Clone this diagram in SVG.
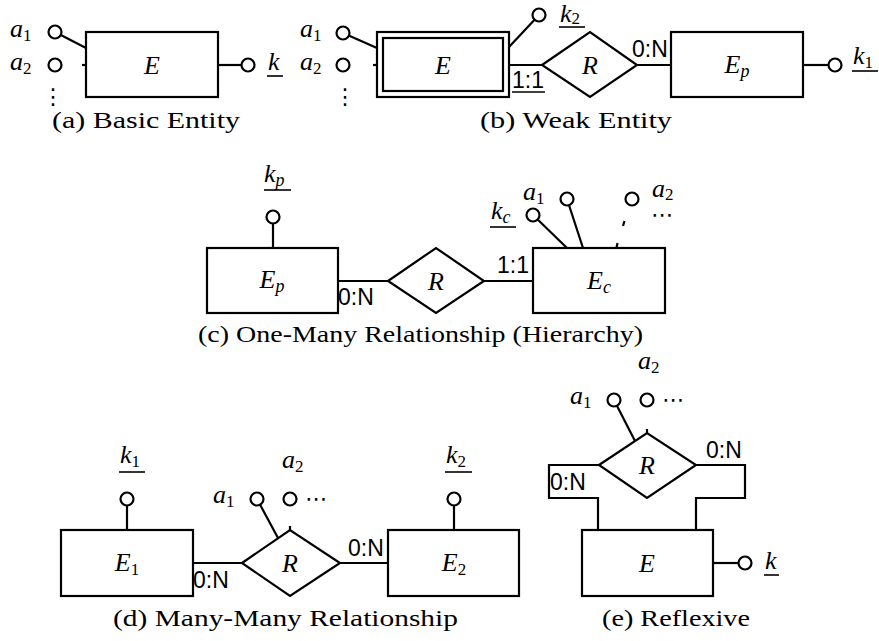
<svg xmlns="http://www.w3.org/2000/svg" width="879" height="641" viewBox="0 0 879 641">
<style>
.ln{stroke:#000;stroke-width:2.2;fill:none}
.ul{stroke:#000;stroke-width:1.6;fill:none}
.box{fill:#fff;stroke:#000;stroke-width:2.2}
.at{fill:#fff;stroke:#000;stroke-width:2.2}
.m{font-family:'Liberation Serif','Times New Roman',serif;font-style:italic;font-size:26px;fill:#000}
.s{font-style:normal;font-size:17px}
.si{font-style:italic;font-size:18px}
.card{font-family:'Liberation Sans',Arial,sans-serif;font-size:23px;fill:#000}
.cap{font-family:'Liberation Serif','Times New Roman',serif;font-size:24px;fill:#000}
.dots{font-family:'DejaVu Sans',sans-serif;font-size:22px;fill:#000}
</style>
<rect width="879" height="641" fill="#fff"/>

<g id="connectors">
  <line class="ln" x1="55" y1="32" x2="86" y2="48"/>
  <line class="ln" x1="82" y1="65" x2="86" y2="65"/>
  <line class="ln" x1="218" y1="65" x2="248" y2="65"/>
  <line class="ln" x1="343" y1="33" x2="377" y2="48"/>
  <line class="ln" x1="373" y1="65" x2="377" y2="65"/>
  <line class="ln" x1="509" y1="47" x2="539" y2="15"/>
  <line class="ln" x1="509" y1="65" x2="542" y2="65"/>
  <line class="ln" x1="637" y1="65" x2="671" y2="65"/>
  <line class="ln" x1="803" y1="65" x2="835" y2="65"/>
  <line class="ln" x1="273" y1="217" x2="273" y2="248"/>
  <line class="ln" x1="338" y1="281" x2="388" y2="281"/>
  <line class="ln" x1="484" y1="281" x2="533" y2="281"/>
  <line class="ln" x1="533" y1="215" x2="567" y2="248"/>
  <line class="ln" x1="567" y1="199" x2="583" y2="248"/>
  <line class="ln" x1="624.5" y1="221" x2="623" y2="226"/>
  <line class="ln" x1="617.5" y1="243" x2="616.5" y2="248"/>
  <line class="ln" x1="127" y1="499" x2="127" y2="530"/>
  <line class="ln" x1="193" y1="563" x2="242" y2="563"/>
  <line class="ln" x1="340" y1="563" x2="388" y2="563"/>
  <line class="ln" x1="257" y1="499" x2="278" y2="538"/>
  <line class="ln" x1="290" y1="526" x2="290" y2="531"/>
  <line class="ln" x1="454" y1="499" x2="454" y2="530"/>
  <polyline class="ln" points="599,465 549,465 549,498 598,498 598,530"/>
  <polyline class="ln" points="696,465 745,465 745,498 696,498 696,530"/>
  <line class="ln" x1="614" y1="400" x2="635" y2="441"/>
  <line class="ln" x1="647" y1="429" x2="647" y2="434"/>
  <line class="ln" x1="713" y1="563" x2="745" y2="563"/>
</g>

<g id="a-E">
  <rect class="box" x="86" y="32" width="132" height="65"/>
  <text class="m" x="152" y="74" text-anchor="middle">E</text>
</g>
<g id="a-a1">
  <circle class="at" cx="55" cy="32" r="6.5"/>
  <text class="m" x="10" y="37">a<tspan class="s" dy="4">1</tspan></text>
</g>
<g id="a-a2">
  <circle class="at" cx="55" cy="65" r="6.5"/>
  <text class="m" x="10" y="70">a<tspan class="s" dy="4">2</tspan></text>
  <text class="dots" x="53" y="104" text-anchor="middle">⋮</text>
</g>
<g id="a-k">
  <circle class="at" cx="248" cy="65" r="6.5"/>
  <text class="m" x="268" y="70">k</text>
  <line class="ul" x1="267" y1="76" x2="283" y2="76"/>
</g>
<text class="cap" x="52" y="128" textLength="188" lengthAdjust="spacingAndGlyphs">(a) Basic Entity</text>

<g id="b-E">
  <rect class="box" x="377" y="32" width="132" height="65"/>
  <rect class="box" x="383" y="38" width="120" height="53"/>
  <text class="m" x="443" y="74" text-anchor="middle">E</text>
</g>
<g id="b-a1">
  <circle class="at" cx="343" cy="33" r="6.5"/>
  <text class="m" x="300" y="37">a<tspan class="s" dy="4">1</tspan></text>
</g>
<g id="b-a2">
  <circle class="at" cx="343" cy="65" r="6.5"/>
  <text class="m" x="300" y="70">a<tspan class="s" dy="4">2</tspan></text>
  <text class="dots" x="345" y="104" text-anchor="middle">⋮</text>
</g>
<g id="b-k2">
  <circle class="at" cx="539" cy="15" r="6.5"/>
  <text class="m" x="560" y="22">k<tspan class="s" dy="2">2</tspan></text>
  <line class="ul" x1="559" y1="27" x2="585" y2="27"/>
</g>
<g id="b-R">
  <polygon class="box" points="542,65 590,32 637,65 590,97"/>
  <text class="m" x="590" y="74" text-anchor="middle">R</text>
</g>
<g id="b-Ep">
  <rect class="box" x="671" y="32" width="132" height="65"/>
  <text class="m" x="737" y="73" text-anchor="middle">E<tspan class="si" dy="4">p</tspan></text>
</g>
<g id="b-k1">
  <circle class="at" cx="835" cy="65" r="6.5"/>
  <text class="m" x="853" y="64">k<tspan class="s" dy="4">1</tspan></text>
  <line class="ul" x1="852" y1="71" x2="878" y2="71"/>
</g>
<text class="card" x="512" y="88">1:1</text>
<line class="ul" x1="512" y1="92" x2="545" y2="92"/>
<text class="card" x="632" y="57">0:N</text>
<text class="cap" x="480" y="128" textLength="192" lengthAdjust="spacingAndGlyphs">(b) Weak Entity</text>

<g id="c-Ep">
  <rect class="box" x="207" y="248" width="131" height="65"/>
  <text class="m" x="272" y="288" text-anchor="middle">E<tspan class="si" dy="4">p</tspan></text>
</g>
<g id="c-kp">
  <circle class="at" cx="273" cy="217" r="6.5"/>
  <text class="m" x="264" y="182">k<tspan class="si" dy="4">p</tspan></text>
  <line class="ul" x1="264" y1="190" x2="291" y2="190"/>
</g>
<g id="c-R">
  <polygon class="box" points="388,281 436,248 484,281 436,313"/>
  <text class="m" x="436" y="290" text-anchor="middle">R</text>
</g>
<g id="c-Ec">
  <rect class="box" x="533" y="248" width="132" height="65"/>
  <text class="m" x="599" y="289" text-anchor="middle">E<tspan class="si" dy="4">c</tspan></text>
</g>
<g id="c-kc">
  <circle class="at" cx="533" cy="215" r="6.5"/>
  <text class="m" x="491" y="219">k<tspan class="si" dy="4">c</tspan></text>
  <line class="ul" x1="490" y1="227" x2="516" y2="227"/>
</g>
<g id="c-a1">
  <circle class="at" cx="567" cy="199" r="6.5"/>
  <text class="m" x="523" y="200">a<tspan class="s" dy="4">1</tspan></text>
</g>
<g id="c-a2">
  <circle class="at" cx="632" cy="199" r="6.5"/>
  <text class="m" x="652" y="197">a<tspan class="s" dy="3">2</tspan></text>
  <text class="dots" x="651" y="222">⋯</text>
</g>
<text class="card" x="338" y="305">0:N</text>
<text class="card" x="497" y="273">1:1</text>
<text class="cap" x="198" y="342" textLength="445" lengthAdjust="spacingAndGlyphs">(c) One-Many Relationship (Hierarchy)</text>

<g id="d-E1">
  <rect class="box" x="61" y="530" width="132" height="66"/>
  <text class="m" x="127" y="571" text-anchor="middle">E<tspan class="s" dy="4">1</tspan></text>
</g>
<g id="d-k1">
  <circle class="at" cx="127" cy="499" r="6.5"/>
  <text class="m" x="120" y="463">k<tspan class="s" dy="4">1</tspan></text>
  <line class="ul" x1="119" y1="472" x2="145" y2="472"/>
</g>
<g id="d-R">
  <polygon class="box" points="242,563 290,530 340,563 290,596"/>
  <text class="m" x="290" y="572" text-anchor="middle">R</text>
</g>
<g id="d-a1">
  <circle class="at" cx="257" cy="499" r="6.5"/>
  <text class="m" x="213" y="503">a<tspan class="s" dy="4">1</tspan></text>
</g>
<g id="d-a2">
  <circle class="at" cx="290" cy="499" r="6.5"/>
  <text class="m" x="282" y="468">a<tspan class="s" dy="4">2</tspan></text>
  <text class="dots" x="305" y="506">⋯</text>
</g>
<g id="d-E2">
  <rect class="box" x="388" y="530" width="131" height="66"/>
  <text class="m" x="454" y="571" text-anchor="middle">E<tspan class="s" dy="4">2</tspan></text>
</g>
<g id="d-k2">
  <circle class="at" cx="454" cy="499" r="6.5"/>
  <text class="m" x="446" y="463">k<tspan class="s" dy="4">2</tspan></text>
  <line class="ul" x1="445" y1="472" x2="472" y2="472"/>
</g>
<text class="card" x="193" y="588">0:N</text>
<text class="card" x="348" y="556">0:N</text>
<text class="cap" x="113" y="626" textLength="345" lengthAdjust="spacingAndGlyphs">(d) Many-Many Relationship</text>

<g id="e-R">
  <polygon class="box" points="599,465 647,433 696,465 647,498"/>
  <text class="m" x="647" y="474" text-anchor="middle">R</text>
</g>
<g id="e-a1">
  <circle class="at" cx="614" cy="400" r="6.5"/>
  <text class="m" x="570" y="404">a<tspan class="s" dy="4">1</tspan></text>
</g>
<g id="e-a2">
  <circle class="at" cx="647" cy="400" r="6.5"/>
  <text class="m" x="638" y="369">a<tspan class="s" dy="4">2</tspan></text>
  <text class="dots" x="662" y="407">⋯</text>
</g>
<g id="e-E">
  <rect class="box" x="582" y="530" width="131" height="66"/>
  <text class="m" x="647" y="572" text-anchor="middle">E</text>
</g>
<g id="e-k">
  <circle class="at" cx="745" cy="563" r="6.5"/>
  <text class="m" x="765" y="569">k</text>
  <line class="ul" x1="764" y1="575" x2="779" y2="575"/>
</g>
<text class="card" x="550" y="490">0:N</text>
<text class="card" x="706" y="458">0:N</text>
<text class="cap" x="602" y="626" textLength="148" lengthAdjust="spacingAndGlyphs">(e) Reflexive</text>
</svg>
